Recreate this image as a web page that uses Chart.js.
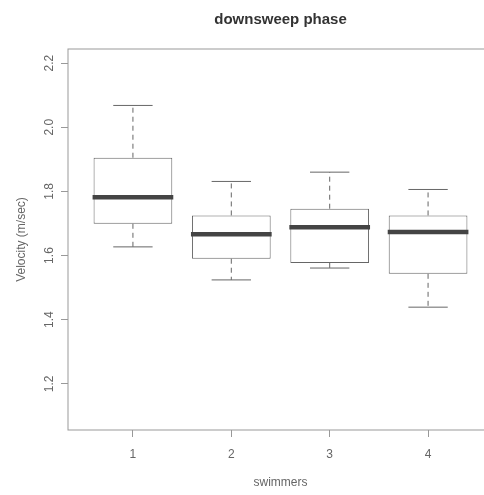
<!DOCTYPE html>
<html>
<head>
<meta charset="utf-8">
<title>downsweep phase</title>
<script src="https://cdn.jsdelivr.net/npm/chart.js@4"></script>
<style>
  html, body { margin: 0; padding: 0; background: #fff; overflow: hidden; }
  canvas { display: block; }
</style>
</head>
<body>
<canvas id="velocity-chart" width="493" height="495"></canvas>
<script>
// ---- DATOS: velocidad (m/sec) por nadador ----
const swimmers = [1, 2, 3, 4];
const whiskerLow = [1.627, 1.524, 1.561, 1.439];
const q1 = [1.699, 1.590, 1.577, 1.543];
const median = [1.782, 1.666, 1.688, 1.673];
const q3 = [1.905, 1.725, 1.746, 1.725];
const whiskerHigh = [2.068, 1.831, 1.860, 1.806];
const yTicks = [1.2, 1.4, 1.6, 1.8, 2.0, 2.2];

Chart.defaults.font.family = '"Liberation Sans", Arial, sans-serif';

const boxColor = '#666';
const textColor = '#666';

// Bigotes, topes, mediana, marco y etiquetas del eje Y
const boxplotExtras = {
  id: 'boxplotExtras',
  afterDatasetsDraw(chart) {
    const { ctx, chartArea, scales: { x, y } } = chart;
    const bars = chart.getDatasetMeta(0).data;
    ctx.save();
    swimmers.forEach((s, i) => {
      const cx = x.getPixelForValue(s);
      const half = bars[i].width / 2;

      // bigotes discontinuos
      ctx.strokeStyle = boxColor;
      ctx.lineWidth = 1;
      ctx.setLineDash([5, 4]);
      ctx.beginPath();
      ctx.moveTo(cx, y.getPixelForValue(q3[i]));
      ctx.lineTo(cx, y.getPixelForValue(whiskerHigh[i]));
      ctx.moveTo(cx, y.getPixelForValue(q1[i]));
      ctx.lineTo(cx, y.getPixelForValue(whiskerLow[i]));
      ctx.stroke();

      // topes de los bigotes (mitad del ancho de la caja)
      ctx.setLineDash([]);
      ctx.beginPath();
      [whiskerHigh[i], whiskerLow[i]].forEach(v => {
        const py = y.getPixelForValue(v);
        ctx.moveTo(cx - half / 2, py);
        ctx.lineTo(cx + half / 2, py);
      });
      ctx.stroke();

      // mediana gruesa
      ctx.strokeStyle = '#444';
      ctx.lineWidth = 4.5;
      ctx.beginPath();
      const my = y.getPixelForValue(median[i]);
      ctx.moveTo(cx - half - 1, my);
      ctx.lineTo(cx + half + 1, my);
      ctx.stroke();
    });

    // marco del área de trazado
    ctx.strokeStyle = '#999';
    ctx.lineWidth = 1;
    ctx.strokeRect(chartArea.left, chartArea.top, chartArea.right - chartArea.left, chartArea.bottom - chartArea.top);
    ctx.restore();
  },
  afterDraw(chart) {
    const { ctx, scales: { y } } = chart;
    ctx.save();
    ctx.fillStyle = textColor;
    ctx.font = '12px "Liberation Sans", Arial, sans-serif';
    ctx.textAlign = 'center';
    ctx.textBaseline = 'middle';
    y.ticks.forEach(t => {
      ctx.save();
      ctx.translate(y.right - 18, y.getPixelForValue(t.value));
      ctx.rotate(-Math.PI / 2);
      ctx.fillText(t.value.toFixed(1), 0, 0);
      ctx.restore();
    });
    ctx.restore();
  }
};

new Chart(document.getElementById('velocity-chart'), {
  type: 'bar',
  data: {
    datasets: [{
      data: swimmers.map((s, i) => ({ x: s, y: [q1[i], q3[i]] })),
      backgroundColor: '#fff',
      borderColor: boxColor,
      borderWidth: 1,
      borderSkipped: false,
      barPercentage: 0.8,
      categoryPercentage: 1
    }]
  },
  options: {
    responsive: false,
    animation: false,
    events: [],
    layout: { padding: 0 },
    plugins: {
      legend: { display: false },
      tooltip: { enabled: false }
    },
    scales: {
      x: {
        type: 'linear',
        min: 0.34,
        max: 4.66,
        offset: false,
        afterBuildTicks: s => { s.ticks = swimmers.map(v => ({ value: v })); },
        afterFit: s => { s.height = 65; },
        grid: { drawOnChartArea: false, offset: false, tickLength: 7, color: '#999' },
        border: { display: false },
        ticks: { color: textColor, font: { size: 12 }, padding: 10 },
        title: { display: true, text: 'swimmers', color: textColor, font: { size: 12 }, padding: { top: 0, bottom: 5 } }
      },
      xTop: {
        type: 'linear',
        position: 'top',
        min: 0,
        max: 1,
        afterFit: s => { s.height = 49; },
        grid: { display: false },
        border: { display: false },
        ticks: { display: false },
        title: { display: true, text: 'downsweep phase', color: '#333', font: { size: 15, weight: 'bold' }, padding: { top: 11, bottom: 0 } }
      },
      y: {
        min: 1.056,
        max: 2.244,
        afterBuildTicks: s => { s.ticks = yTicks.map(v => ({ value: v })); },
        afterFit: s => { s.width = 68; },
        grid: { drawOnChartArea: false, tickLength: 7, color: '#999' },
        border: { display: false },
        ticks: { display: false },
        title: { display: true, text: 'Velocity (m/sec)', color: textColor, font: { size: 12 }, padding: { top: 14, bottom: 0 } }
      }
    }
  },
  plugins: [boxplotExtras]
});
</script>
</body>
</html>
